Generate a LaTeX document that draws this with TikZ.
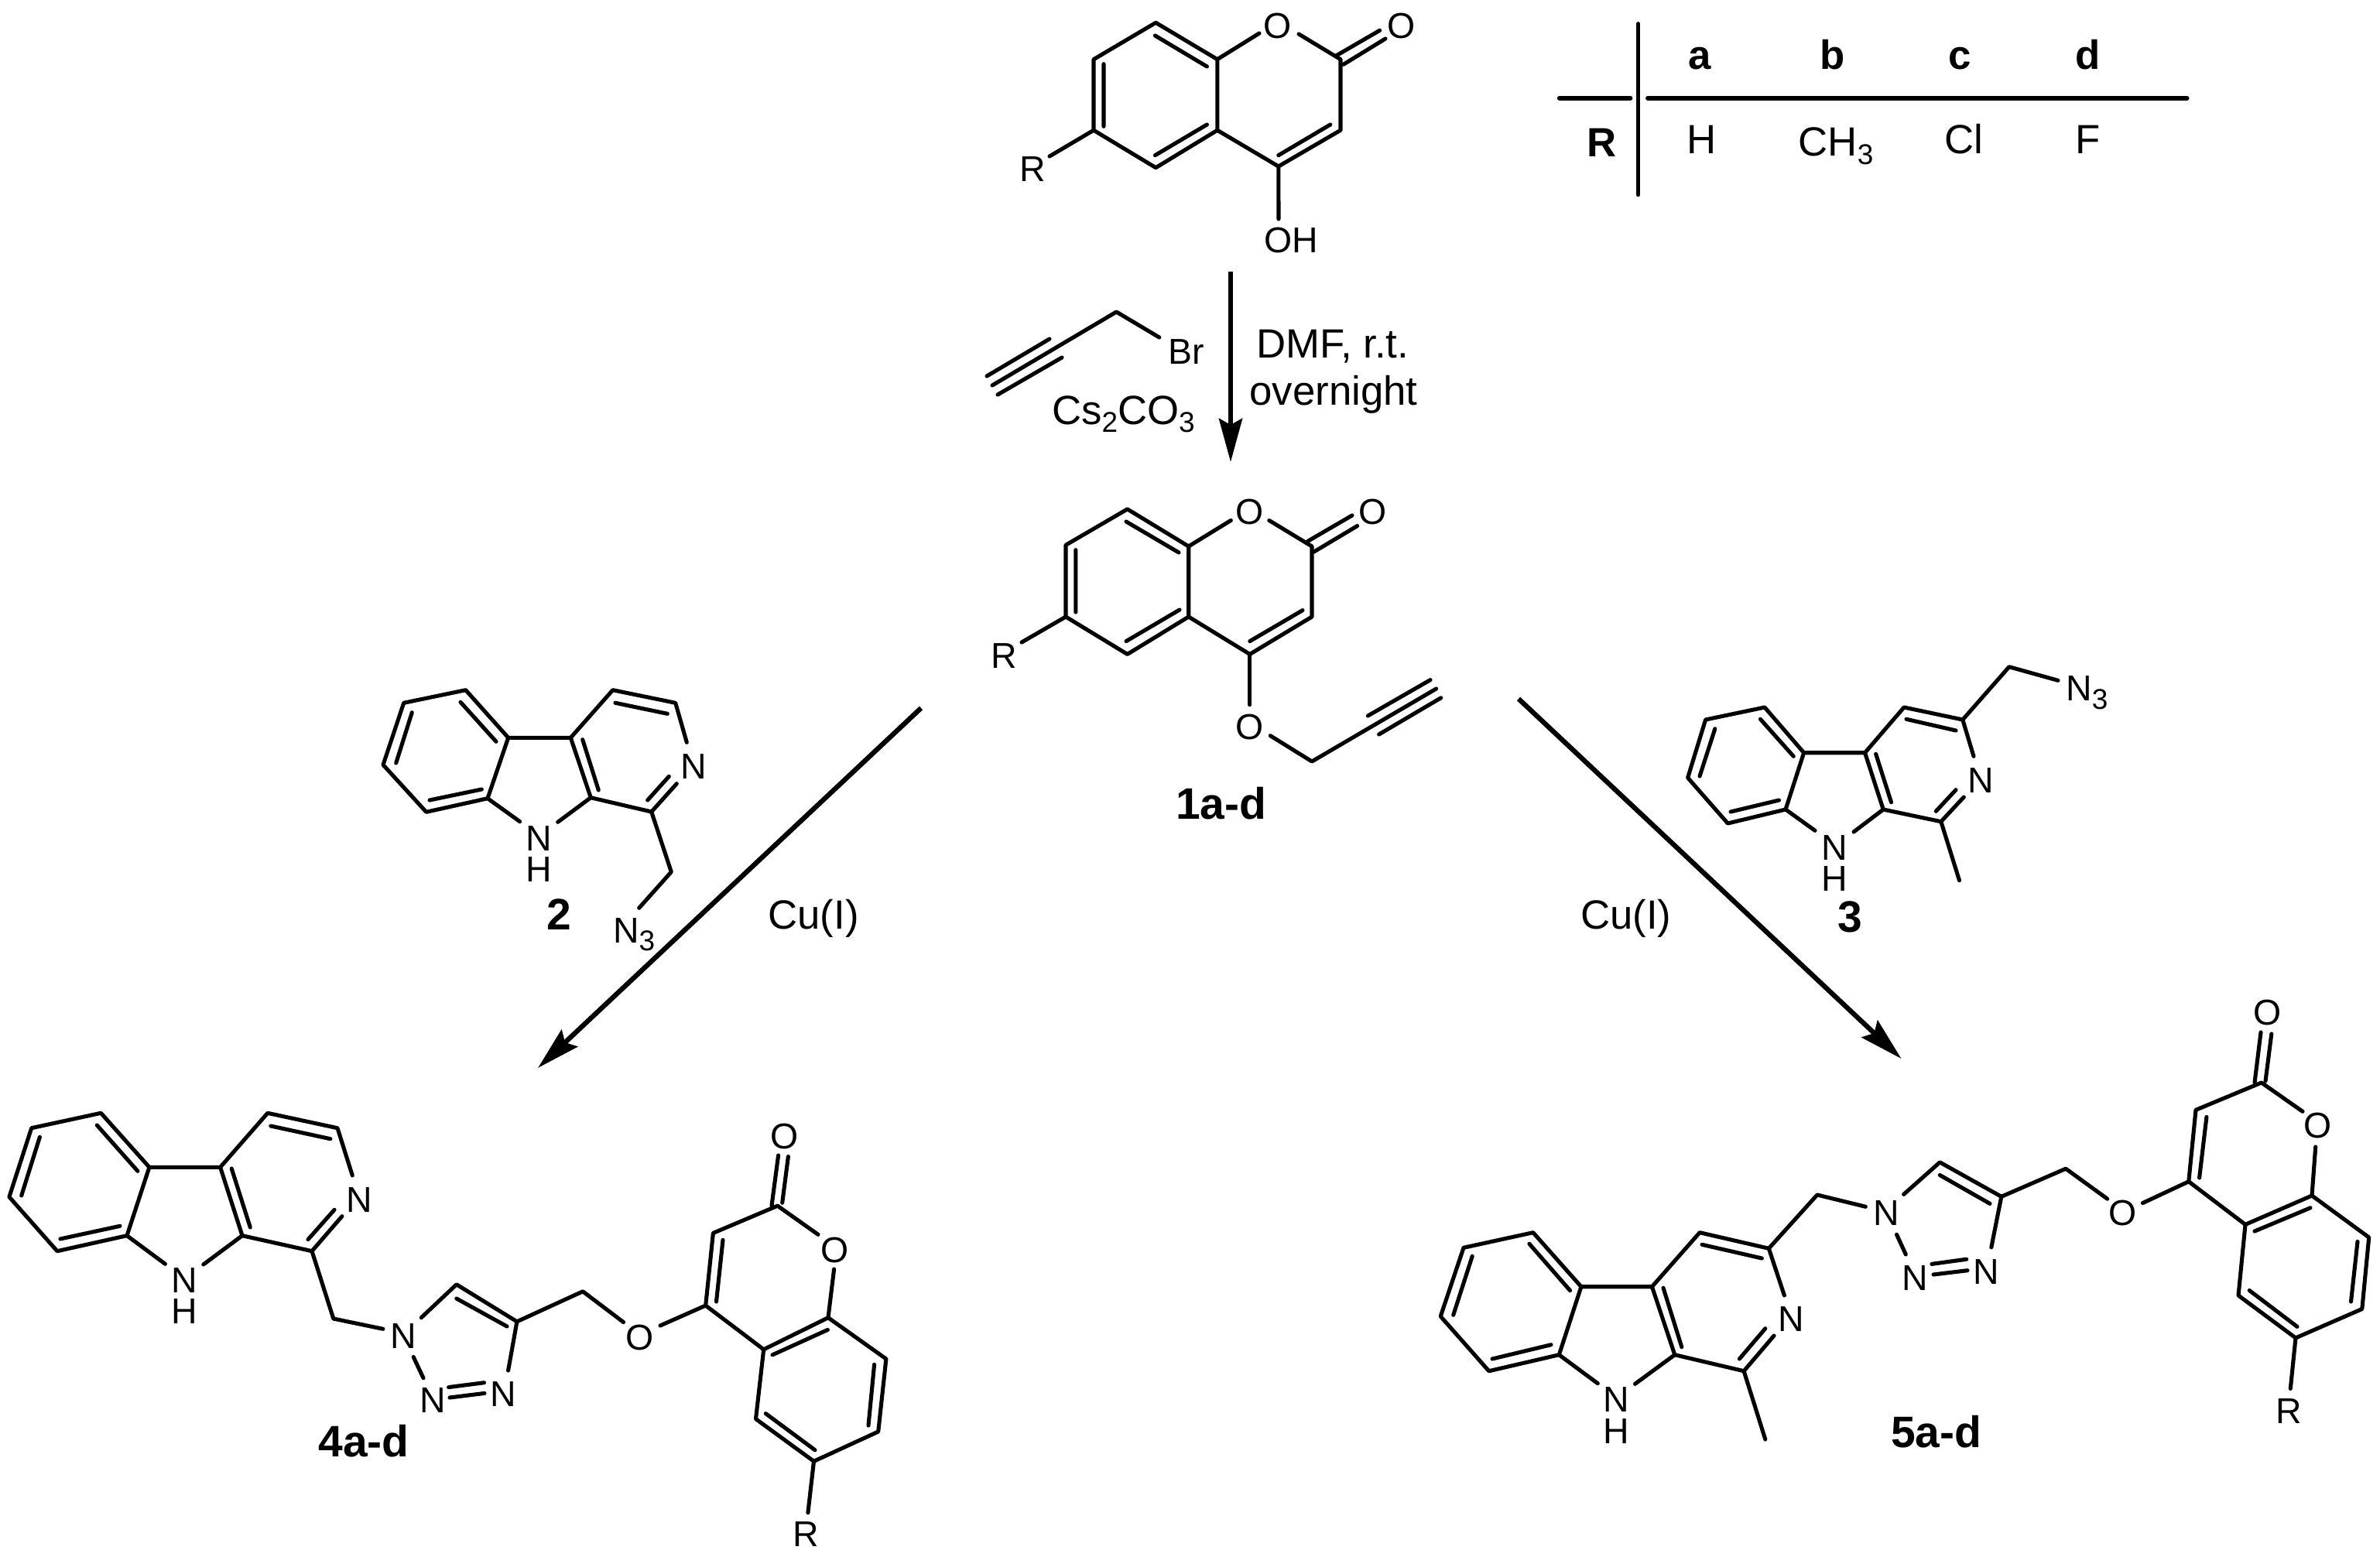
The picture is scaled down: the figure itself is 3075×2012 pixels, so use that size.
\documentclass[tikz,border=0pt]{standalone}
\usepackage{fontspec}
\setmainfont{Liberation Sans}
\usetikzlibrary{arrows.meta}
\newcommand\sbs[1]{\raisebox{-3pt}{\fontsize{10.5}{12}\selectfont #1}}
\tikzset{
  bond/.style={line width=1.45pt,line cap=round,line join=round},
  rxn/.style={line width=1.8pt,-{Stealth[length=5.6mm,width=3mm,inset=0.8mm]}},
  rule/.style={line width=1.5pt,line cap=round},
  atom/.style={anchor=base,inner sep=0pt,font=\fontsize{13.2}{15}\selectfont},
  atomw/.style={anchor=base west,inner sep=0pt,font=\fontsize{13.2}{15}\selectfont},
  cond/.style={anchor=base,inner sep=0pt,font=\fontsize{15}{18}\selectfont},
  condw/.style={anchor=base west,inner sep=0pt,font=\fontsize{15}{18}\selectfont},
  tabhead/.style={anchor=base,inner sep=0pt,font=\fontsize{15}{18}\selectfont\bfseries},
  cmpd/.style={anchor=base,inner sep=0pt,font=\fontsize{16.2}{18}\selectfont\bfseries}
}
\begin{document}
\begin{tikzpicture}[x=0.01cm,y=-0.01cm]
\useasboundingbox (0,0) rectangle (3075,2012);

% ---------- starting coumarin
\draw[bond] (1627,43)--(1572.8,76.7)--(1493.3,29.3)--(1413,76.7)--(1413,168.3)--(1493.3,216.7)--(1572.8,168.3)--(1572.8,76.7);
\draw[bond] (1572.8,168.3)--(1651.8,215)--(1732,168.3)--(1732,76.7)--(1678,44);
\draw[bond] (1651.8,215)--(1652,283);
\draw[bond] (1413,168.3)--(1356,202);
\draw[bond] (1426,82.7)--(1426,163.3) (1492.4,46)--(1559.4,86) (1492.4,200.7)--(1559.4,161) (1651.8,200.7)--(1718.8,161);
\draw[bond] (1726.8,71.7)--(1782.6,39.3) (1735.7,83.3)--(1790,50);
\node[atom] (aO1) at (1651,50) {O};
\node[atom] (aO2) at (1810.7,50) {O};
\node[atomw] (aOH) at (1633,326.7) {OH};
\node[atom] (aR) at (1334,234) {R};

% ---------- table
\draw[rule] (2116.5,30.7)--(2116.5,251.7);
\draw[rule,line width=1.7pt] (2014.8,126.7)--(2106.4,126.7) (2129,126.7)--(2825.5,126.7);
\node[tabhead] (ta) at (2196,90) {a};
\node[tabhead] (tb) at (2367.6,90) {b};
\node[tabhead] (tc) at (2531.7,90) {c};
\node[tabhead] (td) at (2698,90) {d};
\node[tabhead] (tR) at (2070,202.3) {R};
\node[cond] (tH) at (2199,198.3) {H};
\node[condw] (tCH) at (2323,201.7) {CH\sbs{3}};
\node[cond] (tCl) at (2537.3,198.3) {Cl};
\node[cond] (tF) at (2697.4,198.3) {F};

% ---------- propargyl bromide and conditions
\draw[bond] (1497.8,436)--(1442.4,403)--(1282,498);
\draw[bond] (1275,486)--(1356,438) (1289,510)--(1372,462);
\node[cond] (rBr) at (1532.6,470) {\fontsize{13.2}{15}\selectfont Br};
\node[condw] (rCs) at (1358.4,548) {Cs\sbs{2}CO\sbs{3}};
\node[cond] (rDMF) at (1722,462) {DMF, r.t.};
\node[cond] (rOv) at (1723,523) {overnight};
\coordinate (a1s) at (1590,351);
\coordinate (a1e) at (1590,597);
\draw[rxn] (a1s)--(a1e);

% ---------- 1a-d
\draw[bond] (1590.3,672.5)--(1535.7,706)--(1456.6,657.9)--(1377,704.3)--(1377,797)--(1456.6,845.4)--(1535.7,797)--(1535.7,706);
\draw[bond] (1535.7,797)--(1614.8,845.4)--(1695,797)--(1695,706)--(1639.8,672.5);
\draw[bond] (1389.8,710.7)--(1389.8,791) (1455,674)--(1523,714) (1455,828.6)--(1524,788) (1614.8,828.6)--(1683,788.6);
\draw[bond] (1689.8,699.3)--(1747,666) (1697.4,713.2)--(1753.6,679.6);
\draw[bond] (1377,797)--(1320,830);
\draw[bond] (1614.8,845.4)--(1614.8,910.7);
\draw[bond] (1641.3,950.7)--(1695,984)--(1855.6,890);
\draw[bond] (1767.3,925)--(1848,878.6) (1781.6,949)--(1861.7,901.8);
\node[atom] (bO1) at (1614.8,677.5) {O};
\node[atom] (bO2) at (1774,677.5) {O};
\node[atom] (bO3) at (1614.8,955.4) {O};
\node[atom] (bR) at (1297,863.6) {R};
\node[cmpd] (c1) at (1577.6,1058) {1a-d};

% ---------- azide 2
\draw[bond] (671.7,1061.7)--(630,1031.7)--(656.7,953.3)--(601.7,891.7)--(521.7,908.3)--(495,988.3)--(550.7,1049.3)--(630,1031.7);
\draw[bond] (656.7,953.3)--(737.3,953.3)--(763.3,1030.7)--(720.7,1062.3);
\draw[bond] (763.3,1030.7)--(841.7,1049)--(874.3,1012.7);
\draw[bond] (737.3,953.3)--(791.7,891.7)--(872.7,908.3)--(887.3,959.3);
\draw[bond] (595,907.3)--(641,958.3) (532.3,920.7)--(511.7,986) (555,1034)--(622.3,1020) (752.7,955.7)--(773.3,1021) (795,908.3)--(862.3,922.3) (836.7,1034)--(864.3,1003.3);
\draw[bond] (841.7,1049)--(867.3,1126.7)--(825.7,1173.3);
\node[atom] (dN) at (896.7,1006.7) {N};
\node[atom] (dNH) at (696.7,1099.3) {N};
\node[atom] (dH) at (696.7,1139.3) {H};
\node[atomw] (dN3) at (791.5,1218) {N\sbs{3}};
\node[cmpd] (c2) at (722.5,1201.7) {2};

% ---------- azide 3
\draw[bond] (2345,1073.3)--(2307,1046)--(2330.6,972.7)--(2280,914)--(2203.6,930)--(2180.6,1005)--(2232.3,1064)--(2307,1046);
\draw[bond] (2330.6,972.7)--(2409.5,972.7)--(2433.2,1046)--(2395,1075);
\draw[bond] (2433.2,1046)--(2507.8,1061.7)--(2537.3,1030);
\draw[bond] (2409.5,972.7)--(2460,914)--(2535.8,930)--(2550,977.3);
\draw[bond] (2274.4,929.3)--(2317.2,977.3) (2215.8,941.7)--(2196,1003) (2236,1049)--(2298.5,1034) (2423.6,974.3)--(2443.5,1036.7) (2463,929.3)--(2527,944) (2501.3,1048.3)--(2527,1020.7);
\draw[bond] (2535.8,930)--(2595.8,861.7)--(2659,879.3);
\draw[bond] (2507.8,1061.7)--(2531.5,1137.7);
\node[atom] (eN) at (2559.5,1024) {N};
\node[atom] (eNH) at (2370,1111.7) {N};
\node[atom] (eH) at (2370,1151) {H};
\node[atomw] (eN3) at (2668.5,905.7) {N\sbs{3}};
\node[cmpd] (c3) at (2390,1204) {3};

% ---------- reaction arrows
\coordinate (a2s) at (1190,915);
\coordinate (a2e) at (695,1380);
\coordinate (a3s) at (1962,903);
\coordinate (a3e) at (2456.5,1368);
\draw[rxn] (a2s)--(a2e);
\draw[rxn] (a3s)--(a3e);
\node[cond] (cuL) at (1051,1200) {Cu(I)};
\node[cond] (cuR) at (2100.8,1200) {Cu(I)};

% ---------- 4a-d
\draw[bond] (213.4,1633.3)--(164,1596.7)--(192.9,1508.3)--(130.4,1438.3)--(40.7,1457.7)--(11.9,1546.7)--(73.9,1616.7)--(164,1596.7);
\draw[bond] (192.9,1508.3)--(284.6,1508.3)--(313,1596.7)--(262.8,1634);
\draw[bond] (313,1596.7)--(403,1616.7)--(441.9,1571.7);
\draw[bond] (284.6,1508.3)--(345.8,1438.3)--(436,1457.7)--(455.3,1519);
\draw[bond] (125.3,1454)--(177.9,1513.3) (51.4,1469.3)--(27.7,1545) (77.9,1601)--(155,1584.3) (299.2,1510)--(323.3,1586) (349.8,1455)--(426.9,1471.7) (398,1601.7)--(432,1563.3);
\draw[bond] (403,1616.7)--(430.8,1704)--(494.9,1717.3);
\draw[bond] (544.3,1702.7)--(589.8,1659.8)--(667.9,1707.8)--(656.6,1771);
\draw[bond] (589.8,1678)--(655,1714);
\draw[bond] (534.2,1753.5)--(547,1780.8);
\draw[bond] (579.6,1792.6)--(625.5,1786.7) (581,1806)--(626,1800.4);
\draw[bond] (667.9,1707.8)--(753,1668.8)--(805.6,1708.6);
\draw[bond] (853,1713)--(911.7,1687)--(921.4,1593.4)--(1004.6,1558.2)--(1057,1595.3);
\draw[bond] (925.5,1682)--(934,1602.3);
\draw[bond] (911.7,1687)--(986.7,1743.8)--(1070,1702.7)--(1077.6,1640);
\draw[bond] (1070,1702.7)--(1144.9,1756)--(1134.7,1850)--(1051.5,1888.3)--(976.5,1833.6)--(986.7,1743.8);
\draw[bond] (998,1750.8)--(1069.4,1718.4) (1129.6,1763.3)--(1122,1842) (1053,1873.8)--(989.3,1826.6);
\draw[bond] (1051.5,1888.3)--(1043.9,1954.7);
\draw[bond] (997,1558)--(1005.6,1493) (1010.7,1554.3)--(1018.4,1494.5);
\node[atom] (fN) at (464.4,1566.7) {N};
\node[atom] (fNH) at (238,1670.7) {N};
\node[atom] (fH) at (238,1710.7) {H};
\node[atom] (fN1) at (521,1742.3) {N};
\node[atom] (fN2) at (559.2,1825.8) {N};
\node[atom] (fN3) at (650,1817.2) {N};
\node[atom] (fO) at (827,1744.5) {O};
\node[atom] (fO1) at (1078.6,1631) {O};
\node[atom] (fO2) at (1013.8,1484) {O};
\node[atom] (fR) at (1041,1998.4) {R};
\node[cmpd] (c4) at (470,1882.4) {4a-d};

% ---------- 5a-d
\draw[bond] (2064.3,1787.7)--(2014.3,1750.7)--(2042.9,1662.7)--(1980.8,1592.7)--(1891,1612.3)--(1861.2,1701)--(1923.7,1771.7)--(2014.3,1750.7);
\draw[bond] (2042.9,1662.7)--(2134.4,1662.7)--(2163.8,1750.7)--(2112.5,1788.3);
\draw[bond] (2163.8,1750.7)--(2253.1,1771.7)--(2292,1726);
\draw[bond] (2134.4,1662.7)--(2196,1592.7)--(2285.3,1613.3)--(2305.4,1674);
\draw[bond] (1975.9,1607.3)--(2028.6,1667.7) (1902.2,1623.3)--(1877.7,1699.3) (1928,1756)--(2004,1737.7) (2149,1664.3)--(2172.8,1740.7) (2199,1608.3)--(2276.3,1626) (2247.3,1756)--(2280.8,1716.7);
\draw[bond] (2253.1,1771.7)--(2280.8,1860);
\draw[bond] (2285.3,1613.3)--(2347.8,1544)--(2410.3,1559.3);
\draw[bond] (2459.6,1543.4)--(2506.3,1501.9)--(2585.8,1546.3)--(2572.8,1611.9);
\draw[bond] (2506.3,1518.5)--(2571,1555.4);
\draw[bond] (2450.5,1595.3)--(2462.3,1621);
\draw[bond] (2495.8,1633.4)--(2540.7,1627.2) (2498,1647)--(2542,1641.7);
\draw[bond] (2585.8,1546.3)--(2669,1510.2)--(2722.7,1549.2);
\draw[bond] (2768.4,1554.6)--(2827.8,1526.8)--(2837,1434.3)--(2921.8,1399)--(2975,1436.3);
\draw[bond] (2841.6,1522)--(2850.9,1443.4);
\draw[bond] (2827.8,1526.8)--(2901,1582.4)--(2987,1545)--(2991.7,1482);
\draw[bond] (2987,1545)--(3060.7,1599)--(3051.8,1691.5)--(2966,1728.9)--(2892,1674)--(2901,1582.4);
\draw[bond] (2913,1591)--(2985,1560.8) (3046,1604.4)--(3037.5,1682) (2968,1714.4)--(2906.2,1667.5);
\draw[bond] (2966,1728.9)--(2959.3,1794.4);
\draw[bond] (2913,1399)--(2921,1333.9) (2927,1397)--(2934.8,1336);
\node[atom] (gN) at (2314.3,1720) {N};
\node[atom] (gNH) at (2088,1824) {N};
\node[atom] (gH) at (2088,1865) {H};
\node[atom] (gN1) at (2437,1583.7) {N};
\node[atom] (gN2) at (2474,1667.5) {N};
\node[atom] (gN3) at (2566,1659.2) {N};
\node[atom] (gO) at (2742.6,1583.6) {O};
\node[atom] (gO1) at (2994.9,1470.8) {O};
\node[atom] (gO2) at (2930,1324.3) {O};
\node[atom] (gR) at (2957,1839.7) {R};
\node[cmpd] (c5) at (2501.6,1870.8) {5a-d};
\end{tikzpicture}
\end{document}
